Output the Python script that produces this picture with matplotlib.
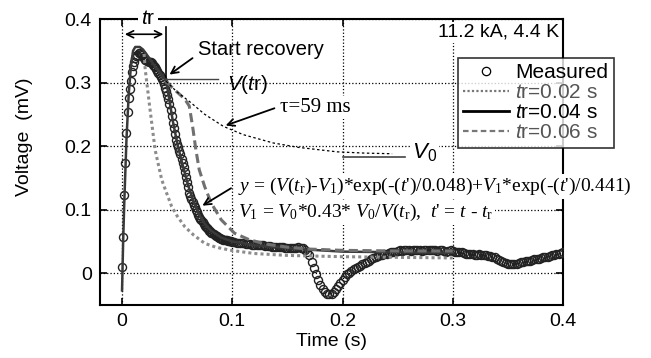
import numpy as np
import matplotlib
matplotlib.use("Agg")
import matplotlib.pyplot as plt
from matplotlib.lines import Line2D

plt.rcParams['font.family'] = 'Liberation Sans'
plt.rcParams['mathtext.fontset'] = 'custom'
plt.rcParams['mathtext.rm'] = 'Liberation Serif'
plt.rcParams['mathtext.it'] = 'Liberation Serif:italic'
plt.rcParams['mathtext.sf'] = 'Liberation Sans'
plt.rcParams['mathtext.bf'] = 'Liberation Sans:italic'

########## measured data (read off the figure) ##########
# 0 .. 0.100 s, 1 ms step
v_fast = [0.010, 0.057, 0.123, 0.174, 0.220, 0.253, 0.276, 0.290, 0.302, 0.316,
          0.326, 0.332, 0.338, 0.341, 0.344, 0.346, 0.347, 0.345, 0.343, 0.340,
          0.338, 0.336, 0.335, 0.334, 0.333, 0.333, 0.332, 0.330, 0.328, 0.326,
          0.324, 0.321, 0.318, 0.315, 0.312, 0.309, 0.306, 0.302, 0.297, 0.292,
          0.286, 0.280, 0.274, 0.266, 0.257, 0.247, 0.237, 0.228, 0.219, 0.210,
          0.204, 0.199, 0.193, 0.187, 0.180, 0.174, 0.167, 0.160, 0.152, 0.143,
          0.135, 0.127, 0.122, 0.117, 0.112, 0.108, 0.104, 0.100, 0.096, 0.092,
          0.089, 0.086, 0.083, 0.080, 0.077, 0.075, 0.073, 0.071, 0.069, 0.067,
          0.066, 0.064, 0.063, 0.062, 0.060, 0.059, 0.058, 0.057, 0.056, 0.055,
          0.054, 0.054, 0.053, 0.053, 0.052, 0.052, 0.051, 0.051, 0.050, 0.050,
          0.049]
# 0.102 .. 0.400 s, 2 ms step
v_slow = [0.049, 0.048, 0.048, 0.047, 0.047, 0.046, 0.046, 0.046, 0.045, 0.045,
          0.045, 0.044, 0.044, 0.044, 0.043, 0.043, 0.043, 0.042, 0.042, 0.042,
          0.041, 0.041, 0.041, 0.040, 0.040, 0.040, 0.040, 0.039, 0.040, 0.041,
          0.040, 0.039, 0.037, 0.034, 0.028, 0.018, 0.008, -0.002, -0.011, -0.019,
          -0.025, -0.029, -0.032, -0.033, -0.032, -0.029, -0.025, -0.020, -0.015, -0.010,
          -0.006, -0.002, 0.001, 0.004, 0.006, 0.008, 0.010, 0.012, 0.014, 0.016,
          0.018, 0.020, 0.022, 0.024, 0.026, 0.027, 0.028, 0.029, 0.030, 0.031,
          0.032, 0.033, 0.034, 0.034, 0.035,
          0.036, 0.035, 0.036, 0.037, 0.036, 0.035, 0.036, 0.037, 0.037, 0.036,
          0.035, 0.036, 0.037, 0.036, 0.036, 0.037, 0.036, 0.035, 0.036, 0.036,
          0.035, 0.034, 0.035, 0.036, 0.035, 0.034, 0.034, 0.033, 0.033, 0.032,
          0.031, 0.031, 0.030, 0.030, 0.029, 0.029, 0.030, 0.029, 0.028, 0.028,
          0.027, 0.027, 0.026, 0.025, 0.023, 0.021, 0.019, 0.017, 0.016, 0.015,
          0.014, 0.014, 0.015, 0.015, 0.016, 0.017, 0.018, 0.019, 0.020, 0.020,
          0.021, 0.022, 0.022, 0.023, 0.024, 0.025, 0.026, 0.026, 0.027, 0.028,
          0.029, 0.030, 0.031, 0.032, 0.033]
t_fast = 0.001 * np.arange(len(v_fast))
t_slow = 0.102 + 0.002 * np.arange(len(v_slow))

########## fitted curves ##########
t_fit04 = [0.0, 0.001, 0.002, 0.004, 0.006, 0.008, 0.010, 0.012, 0.016, 0.019, 0.022,
           0.026, 0.030, 0.035, 0.040, 0.043, 0.046, 0.050, 0.055, 0.060, 0.065,
           0.070, 0.075, 0.080, 0.090, 0.100, 0.120, 0.140, 0.160, 0.180, 0.200,
           0.250, 0.300]
v_fit04 = [-0.027, 0.05, 0.11, 0.21, 0.28, 0.325, 0.350, 0.356, 0.356, 0.352, 0.345,
           0.335, 0.325, 0.315, 0.302, 0.272, 0.240, 0.205, 0.170, 0.138, 0.112,
           0.092, 0.078, 0.068, 0.056, 0.050, 0.044, 0.041, 0.038, 0.036, 0.034,
           0.033, 0.032]

t_fit02 = [0.020, 0.021, 0.025, 0.030, 0.036, 0.040, 0.045, 0.050, 0.057, 0.065,
           0.075, 0.085, 0.099, 0.120, 0.150, 0.200, 0.250, 0.300]
v_fit02 = [0.345, 0.321, 0.263, 0.194, 0.147, 0.128, 0.105, 0.090, 0.073, 0.060,
           0.047, 0.041, 0.036, 0.031, 0.028, 0.026, 0.025, 0.024]

t_fit06 = [0.040, 0.045, 0.050, 0.055, 0.058, 0.061, 0.064, 0.067, 0.070, 0.075,
           0.081, 0.090, 0.102, 0.115, 0.130, 0.150, 0.170, 0.200, 0.250, 0.300]
v_fit06 = [0.302, 0.293, 0.285, 0.277, 0.271, 0.263, 0.231, 0.194, 0.163, 0.136,
           0.110, 0.084, 0.063, 0.053, 0.046, 0.041, 0.038, 0.036, 0.035, 0.035]

# tau = 59 ms decay towards V0
t_tau = [0.040, 0.050, 0.062, 0.075, 0.092, 0.110, 0.137, 0.160, 0.195, 0.220, 0.245]
v_tau = [0.302, 0.285, 0.269, 0.250, 0.231, 0.218, 0.205, 0.198, 0.191, 0.189, 0.188]

t_r = 0.04
v_tr_level = 0.305
v0_level = 0.183

labels = ["Measured", r"$\mathbf{t}$r=0.02 s", r"$\mathbf{t}$r=0.04 s", r"$\mathbf{t}$r=0.06 s"]
label_colors = ["k", "#555555", "k", "#555555"]

##########################################
fig = plt.figure(figsize=(6.51, 3.58), dpi=100)
ax = fig.add_axes([100/651, 1-305/358, 463/651, 286/358])

ax.plot(t_fast, v_fast, "o", mfc="none", mec="#222222", ms=5.8, mew=1.0, zorder=3)
ax.plot(t_slow, v_slow, "o", mfc="none", mec="#222222", ms=5.8, mew=1.0, zorder=3)

ax.plot(t_fit04, v_fit04, "-", color="#3a3a3a", lw=1.8, zorder=4)
ax.plot(t_fit02, v_fit02, color="#8c8c8c", lw=2.2, ls=(0, (1, 1)), zorder=4)
ax.plot(t_fit06, v_fit06, color="#707070", lw=2.2, ls=(0, (3, 1.5)), zorder=4)
ax.plot(t_tau, v_tau, color="k", lw=0.9, ls=(0, (2, 2)), zorder=4)

# level lines
ax.plot([t_r, 0.087], [v_tr_level, v_tr_level], color="#444444", lw=1.0, zorder=4)
ax.plot([0.200, 0.257], [v0_level, v0_level], color="#444444", lw=1.2, zorder=4)

ax.set_xlim(-0.02, 0.4)
ax.set_ylim(-0.05, 0.4)
ax.set_xticks([0, 0.1, 0.2, 0.3, 0.4])
ax.set_xticklabels(["0", "0.1", "0.2", "0.3", "0.4"])
ax.set_yticks([0, 0.1, 0.2, 0.3, 0.4])
ax.set_yticklabels(["0", "0.1", "0.2", "0.3", "0.4"])
ax.tick_params(direction="in", top=True, right=True, length=5, width=1.2,
               labelsize=14, pad=6)
ax.grid(True, color="k", ls=":", lw=0.9)
for s in ax.spines.values():
    s.set_linewidth(1.5)

ax.set_xlabel("Time (s)", fontsize=14, labelpad=2)
ax.set_ylabel("Voltage  (mV)", fontsize=14)
ax.yaxis.set_label_coords(-0.145, 0.59)

white = dict(boxstyle="square,pad=0.1", fc="white", ec="none")

# annotations
arrow = dict(arrowstyle="->,head_length=0.5,head_width=0.25", lw=1.3, color="k")
ax.annotate("", xy=(0.0, 0.376), xytext=(t_r, 0.376), zorder=7,
            arrowprops=dict(arrowstyle="<->,head_length=0.5,head_width=0.25", lw=1.2, color="k"))
ax.plot([t_r, t_r], [0.308, 0.387], color="k", lw=1.2, zorder=4)
ax.text(0.0236, 0.401, r"$\mathbf{t}$r", ha="center", va="center", fontsize=15,
        bbox=dict(boxstyle="square,pad=0.15", fc="white", ec="none"), zorder=6, clip_on=False)

ax.text(0.069, 0.352, "Start recovery", fontsize=14.5, ha="left", va="center", zorder=6)
ax.annotate("", xy=(0.041, 0.310), xytext=(0.066, 0.341), arrowprops=arrow, zorder=7)
ax.text(0.095, 0.297, r"$\mathbf{V}$($\mathbf{t}$r)", fontsize=15, ha="left", va="center")

ax.text(0.143, 0.261, r"τ=59 ms", fontsize=15, family="Liberation Serif", ha="left",
        va="center", bbox=white, zorder=5)
ax.annotate("", xy=(0.0916, 0.231), xytext=(0.1406, 0.261), arrowprops=arrow, zorder=7)

ax.text(0.263, 0.19, r"$\mathbf{V}_{\mathsf{0}}$", fontsize=16, ha="left", va="center",
        bbox=white, zorder=5)
ax.text(0.2866, 0.379, "11.2 kA, 4.4 K", fontsize=14, ha="left", va="center",
        bbox=white, zorder=5)

ax.text(0.105, 0.137,
        r"$y$ = ($V$($t_\mathrm{r}$)-$V_1$)*exp(-($t$')/0.048)+$V_1$*exp(-($t$')/0.441)",
        fontsize=14, family="Liberation Serif", ha="left", va="center", clip_on=False,
        bbox=white, zorder=5)
ax.text(0.105, 0.096,
        r"$V_1$ = $V_0$*0.43* $V_0$/$V$($t_\mathrm{r}$),  $t$' = $t$ - $t_\mathrm{r}$",
        fontsize=14, family="Liberation Serif", ha="left", va="center", clip_on=False,
        bbox=white, zorder=5)
ax.annotate("", xy=(0.0707, 0.104), xytext=(0.101, 0.136), arrowprops=arrow, zorder=7)

handles = [Line2D([], [], ls="none", marker="o", mfc="none", mec="k", ms=6, mew=0.9),
           Line2D([], [], color="#777777", ls=(0, (1, 1)), lw=1.6),
           Line2D([], [], color="k", lw=2.0),
           Line2D([], [], color="#777777", ls=(0, (2.5, 1.5)), lw=1.6)]
leg = fig.legend(handles, labels, loc="upper left", bbox_to_anchor=(458/651, 1-58/358),
                 bbox_transform=fig.transFigure, frameon=True, fancybox=False,
                 edgecolor="k", fontsize=15, handlelength=2.2, handletextpad=0.3,
                 borderpad=0.25, labelspacing=0.05, borderaxespad=0)
leg.get_frame().set_linewidth(1.2)
leg.set_zorder(10)
for txt, c in zip(leg.get_texts(), label_colors):
    txt.set_color(c)

fig.savefig("out.png", dpi=100)
